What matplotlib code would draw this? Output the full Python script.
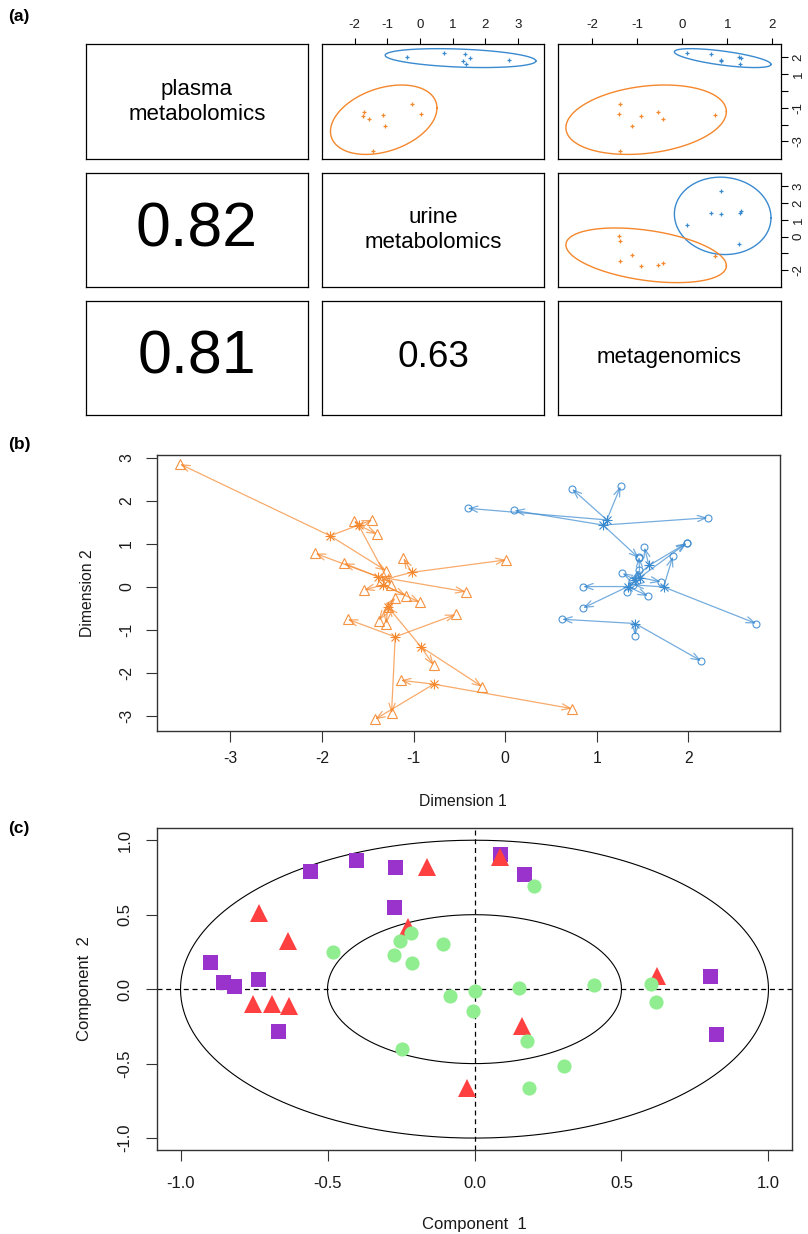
import numpy as np
import matplotlib
matplotlib.use("Agg")
import matplotlib.pyplot as plt

plt.rcParams["font.family"] = ["Liberation Sans", "DejaVu Sans"]
plt.rcParams["axes.unicode_minus"] = False

# ---------------------------------------------------------------- data (a)
block_names = ["plasma\nmetabolomics", "urine\nmetabolomics", "metagenomics"]

blue_plasma = [2.23, 2.17, 1.84, 1.73, 1.97, 1.95, 1.59]
blue_urine = [0.72, 1.38, 2.72, 1.32, -0.41, 1.53, 1.40]
blue_meta = [0.10, 0.63, 0.85, 0.85, 1.26, 1.30, 1.28]

orange_plasma = [-0.80, -1.40, -1.26, -1.66, -2.09, -3.59, -1.48, -1.46]
orange_urine = [-0.25, 0.02, -1.71, -1.55, -1.07, -1.45, -1.75, -1.14]
orange_meta = [-1.38, -1.41, -0.53, -0.43, -1.11, -1.38, -0.92, 0.73]

rv_row = [1, 2, 2]
rv_col = [0, 0, 1]
rv_value = [0.82, 0.81, 0.63]

# ---------------------------------------------------------------- data (b)
orange_cx = [-1.91, -1.60, -1.02, -1.39, -1.33, -1.28, -1.20, -0.92, -0.78]
orange_cy = [1.19, 1.44, 0.34, 0.24, 0.05, -0.46, -1.16, -1.39, -2.26]
orange_ex = [[-3.55, -1.45, -1.30], [-1.65, -1.40, -1.25], [0.01, -1.11, -1.36],
             [-2.07, -1.76, -0.43], [-1.54, -1.08, -0.93], [-1.38, -1.30, -1.20],
             [-1.72, -0.54, -1.24], [-0.78, -0.25, -1.28], [-1.14, 0.73, -1.42]]
orange_ey = [[2.86, 1.56, 0.38], [1.54, 1.23, 0.05], [0.63, 0.67, 0.15],
             [0.78, 0.55, -0.11], [-0.07, -0.20, -0.36], [-0.78, -0.86, -0.25],
             [-0.75, -0.64, -2.94], [-1.82, -2.32, -0.46], [-2.17, -2.83, -3.08]]

blue_cx = [1.11, 1.07, 1.57, 1.73, 1.42, 1.34, 1.42, 1.47]
blue_cy = [1.56, 1.44, 0.50, 0.00, -0.85, 0.01, 0.16, 0.22]
blue_ex = [[0.73, 1.26, -0.41], [0.10, 2.21, 1.46], [1.98, 1.52, 1.38],
           [1.83, 2.74, 1.40], [0.62, 1.42, 2.14], [0.85, 0.85, 1.56],
           [1.28, 1.46, 1.33], [1.98, 1.70, 1.46]]
blue_ey = [[2.28, 2.34, 1.83], [1.78, 1.61, 0.67], [1.02, 0.92, 0.15],
           [0.71, -0.85, 0.05], [-0.75, -1.13, -1.72], [0.01, -0.49, -0.21],
           [0.32, 0.40, -0.11], [1.02, 0.12, 0.70]]

# ---------------------------------------------------------------- data (c)
square_x = [-0.899, -0.856, -0.817, -0.736, -0.668, -0.560, -0.404, -0.271,
            -0.273, 0.087, 0.170, 0.800, 0.820]
square_y = [0.18, 0.05, 0.02, 0.07, -0.28, 0.79, 0.87, 0.82, 0.55, 0.91,
            0.77, 0.09, -0.30]
triangle_x = [-0.732, -0.636, -0.755, -0.690, -0.631, -0.163, -0.227, 0.087,
              0.622, 0.161, -0.027]
triangle_y = [0.51, 0.32, -0.10, -0.10, -0.11, 0.82, 0.42, 0.89, 0.09,
              -0.25, -0.665]
circle_x = [-0.480, -0.254, -0.216, -0.273, -0.214, -0.246, -0.106, 0.204,
            -0.083, 0.002, -0.004, 0.151, 0.407, 0.601, 0.617, 0.180, 0.305,
            0.186]
circle_y = [0.25, 0.325, 0.376, 0.226, 0.175, -0.40, 0.305, 0.694, -0.043,
            -0.011, -0.15, 0.011, 0.029, 0.036, -0.083, -0.347, -0.515,
            -0.665]
circle_radii = [1.0, 0.5]

# ---------------------------------------------------------------- styling
BLUE = "#3a8ad0"
ORANGE = "#f5872c"
PURPLE = "#9933cc"
RED = "#ff4040"
GREEN = "#90ee90"
FRAME = "#333333"
TXT = "#1a1a1a"

W, H = 808, 1234
fig = plt.figure(figsize=(W / 100, H / 100), dpi=100)


def px_axes(x0, y0, x1, y1):
    return fig.add_axes([x0 / W, 1 - y1 / H, (x1 - x0) / W, (y1 - y0) / H])


def data_ellipse(x, y, level=0.95, n=240):
    x = np.asarray(x)
    y = np.asarray(y)
    cov = np.cov(x, y)
    L = np.linalg.cholesky(cov)
    t = np.linspace(0, 2 * np.pi, n)
    r = np.sqrt(-2 * np.log(1 - level))
    pts = r * L @ np.vstack([np.cos(t), np.sin(t)])
    return x.mean() + pts[0], y.mean() + pts[1]


# ---------------------------------------------------------------- panel (a)
cols = [(86, 308), (322, 544), (558, 781)]
rows = [(44, 159), (173, 287), (301, 415)]
scores = [(blue_plasma, orange_plasma), (blue_urine, orange_urine),
          (blue_meta, orange_meta)]
lims = [(-4.04, 2.76), (-3.0, 3.79), (-2.76, 2.19)]
top_ticks = {1: [-2, -1, 0, 1, 2, 3], 2: [-2, -1, 0, 1, 2]}
right_ticks = {0: ([-3, -2, -1, 0, 1, 2], ["-3", "", "-1", "", "1", "2"]),
               1: ([-2, -1, 0, 1, 2, 3], ["-2", "", "0", "1", "2", "3"])}

rv_lookup = {(r, c): v for r, c, v in zip(rv_row, rv_col, rv_value)}

for i in range(3):
    for j in range(3):
        ax = px_axes(cols[j][0], rows[i][0], cols[j][1], rows[i][1])
        ax.set_xticks([])
        ax.set_yticks([])
        for s in ax.spines.values():
            s.set_linewidth(0.9)
            s.set_color("black")
        if i == j:
            ax.text(0.5, 0.5, block_names[i], ha="center", va="center",
                    fontsize=16, linespacing=1.25, transform=ax.transAxes)
        elif i < j:
            for k, col in enumerate([BLUE, ORANGE]):
                xs = scores[j][k]
                ys = scores[i][k]
                ex, ey = data_ellipse(xs, ys)
                ax.plot(ex, ey, color=col, lw=1.0)
                ax.plot(xs, ys, "+", color=col, ms=3.2, mew=0.9)
            ax.set_xlim(*lims[j])
            ax.set_ylim(*lims[i])
            if i == 0:
                ax.set_xticks(top_ticks[j])
                ax.tick_params(axis="x", top=True, labeltop=True,
                               bottom=False, labelbottom=False,
                               length=4.3, width=0.8, pad=5.0,
                               labelsize=9.5, labelcolor=TXT)
            if j == 2:
                tk, lb = right_ticks[i]
                ax.set_yticks(tk)
                ax.set_yticklabels(lb, rotation=90, va="center")
                ax.tick_params(axis="y", right=True, labelright=True,
                               left=False, labelleft=False,
                               length=4.8, width=0.8, pad=3.5,
                               labelsize=9.5, labelcolor=TXT)
        else:
            v = rv_lookup[(i, j)]
            ax.text(0.5, 0.5, f"{v:.2f}", ha="center", va="center",
                    fontsize=45 * (v / 0.82) ** 2, transform=ax.transAxes)

# ---------------------------------------------------------------- panel (b)
axb = px_axes(157, 455, 780, 731)
axb.set_xlim(-3.80, 3.00)
axb.set_ylim(-3.35, 3.07)


def draw_group(ax, cx, cy, ex, ey, color, marker, ms):
    for x0, y0, xs, ys in zip(cx, cy, ex, ey):
        for x1, y1 in zip(xs, ys):
            ax.annotate("", xy=(x1, y1), xytext=(x0, y0),
                        arrowprops=dict(arrowstyle="->,head_length=0.6,head_width=0.22",
                                        color=color, lw=0.9, alpha=0.7,
                                        shrinkA=0, shrinkB=0))
        ax.plot(xs, ys, marker, ls="none", mfc="none", mec=color, ms=ms,
                mew=0.8, alpha=0.9)
    ax.plot(cx, cy, "+", ls="none", color=color, ms=7, mew=0.8)
    ax.plot(cx, cy, "x", ls="none", color=color, ms=5.5, mew=0.8)


draw_group(axb, orange_cx, orange_cy, orange_ex, orange_ey, ORANGE, "^", 7.5)
draw_group(axb, blue_cx, blue_cy, blue_ex, blue_ey, BLUE, "o", 5.0)

axb.set_xticks([-3, -2, -1, 0, 1, 2])
axb.set_yticks([-3, -2, -1, 0, 1, 2, 3])
axb.tick_params(length=7.6, width=0.8, color=FRAME, labelsize=11.3,
                labelcolor=TXT)
axb.tick_params(axis="x", pad=7.0)
axb.tick_params(axis="y", pad=9.0)
for lab in axb.get_yticklabels():
    lab.set_rotation(90)
    lab.set_va("center")
for s in axb.spines.values():
    s.set_color(FRAME)
    s.set_linewidth(1.0)
fig.text(463 / W, 1 - 801 / H, "Dimension 1", ha="center", va="center",
         fontsize=11.3, color=TXT)
fig.text(87 / W, 1 - 593 / H, "Dimension 2", ha="center", va="center",
         fontsize=11.3, color=TXT, rotation=90)

# ---------------------------------------------------------------- panel (c)
axc = px_axes(157, 828, 792, 1150)
axc.set_xlim(-1.08, 1.08)
axc.set_ylim(-1.08, 1.082)
t = np.linspace(0, 2 * np.pi, 400)
for r in circle_radii:
    axc.plot(r * np.cos(t), r * np.sin(t), color="black", lw=0.8)
axc.axhline(0, color="black", lw=0.9, ls=(0, (4, 3)))
axc.axvline(0, color="black", lw=0.9, ls=(0, (4, 3)))
axc.plot(square_x, square_y, "s", ls="none", color=PURPLE, ms=10.8, mew=0)
axc.plot(triangle_x, triangle_y, "^", ls="none", color=RED, ms=13, mew=0)
axc.plot(circle_x, circle_y, "o", ls="none", color=GREEN, ms=10.2, mew=0)
axc.set_xticks([-1.0, -0.5, 0.0, 0.5, 1.0])
axc.set_yticks([-1.0, -0.5, 0.0, 0.5, 1.0])
axc.set_xticklabels(["-1.0", "-0.5", "0.0", "0.5", "1.0"])
axc.set_yticklabels(["-1.0", "-0.5", "0.0", "0.5", "1.0"], rotation=90,
                    va="center")
axc.tick_params(length=7.6, width=0.8, color=FRAME, labelsize=12,
                labelcolor=TXT)
axc.tick_params(axis="x", pad=11.0)
axc.tick_params(axis="y", pad=10.0)
for s in axc.spines.values():
    s.set_color(FRAME)
    s.set_linewidth(1.0)
fig.text(474 / W, 1 - 1224 / H, "Component  1", ha="center", va="center",
         fontsize=12, color=TXT)
fig.text(85 / W, 1 - 989 / H, "Component  2", ha="center", va="center",
         fontsize=12, color=TXT, rotation=90)

# ---------------------------------------------------------------- panel tags
for tag, y in [("(a)", 16), ("(b)", 444), ("(c)", 828)]:
    fig.text(8 / W, 1 - y / H, tag, ha="left", va="center", fontsize=12.5,
             fontweight="bold", color="black")

fig.savefig("out.png", dpi=100)
